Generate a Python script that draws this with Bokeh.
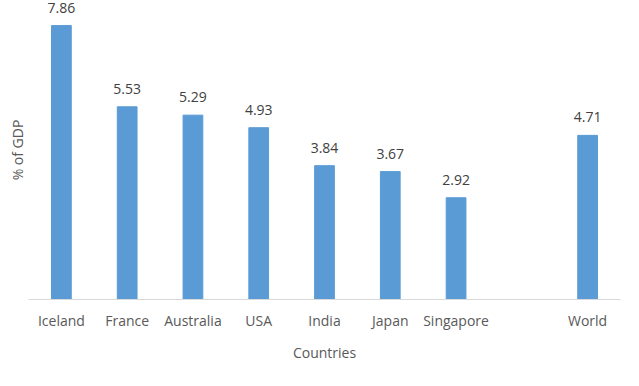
from bokeh.plotting import figure
from bokeh.models import FactorRange, Range1d, ColumnDataSource, LabelSet, FixedTicker
from bokeh.core.properties import value
from bokeh.embed import file_html
from bokeh.resources import INLINE

countries = ["Iceland", "France", "Australia", "USA", "India", "Japan", "Singapore", " ", "World"]
bar_countries = ["Iceland", "France", "Australia", "USA", "India", "Japan", "Singapore", "World"]
values = [7.86, 5.53, 5.29, 4.93, 3.84, 3.67, 2.92, 4.71]
value_labels = ["7.86", "5.53", "5.29", "4.93", "3.84", "3.67", "2.92", "4.71"]

src = ColumnDataSource(dict(x=bar_countries, top=values, lab=value_labels))

p = figure(width=623, height=370, x_range=FactorRange(*countries), y_range=Range1d(0, 8.58),
           output_backend="svg", toolbar_location=None,
           min_border_left=28, min_border_right=3, min_border_top=0, min_border_bottom=71)
p.outline_line_color = None
p.grid.grid_line_color = None
p.x_range.range_padding = 0
p.x_range.factor_padding = 0

p.vbar(x="x", top="top", width=0.30, source=src, fill_color="#5B9BD5", line_color="#5B9BD5")

labels = LabelSet(x="x", y="top", text="lab", source=src, text_align="center",
                  text_baseline="alphabetic", y_offset=13,
                  text_font=value("Open Sans"), text_font_size=value("14px"),
                  text_color="#404040")
p.add_layout(labels)

p.xaxis.axis_line_color = "#D9D9D9"
p.xaxis.major_tick_line_color = None
p.xaxis.minor_tick_line_color = None
p.xaxis.major_tick_out = 0
p.xaxis.minor_tick_out = 0
p.xaxis.major_label_text_font = "Open Sans"
p.xaxis.major_label_text_font_size = "14px"
p.xaxis.major_label_text_color = "#595959"
p.xaxis.major_label_standoff = 11
p.xaxis.axis_label = "Countries"
p.xaxis.axis_label_text_font = "Open Sans"
p.xaxis.axis_label_text_font_size = "14px"
p.xaxis.axis_label_text_font_style = "normal"
p.xaxis.axis_label_text_color = "#595959"
p.xaxis.axis_label_standoff = 10

p.yaxis.ticker = FixedTicker(ticks=[])
p.yaxis.axis_line_color = None
p.yaxis.major_tick_line_color = None
p.yaxis.minor_tick_line_color = None
p.yaxis.major_tick_out = 0
p.yaxis.minor_tick_out = 0
p.yaxis.major_label_standoff = 0
p.yaxis.axis_label = "% of GDP"
p.yaxis.axis_label_text_font = "Open Sans"
p.yaxis.axis_label_text_font_size = "14px"
p.yaxis.axis_label_text_font_style = "normal"
p.yaxis.axis_label_text_color = "#595959"
p.yaxis.axis_label_standoff = 2

open("out.html", "w").write(file_html(p, INLINE))
